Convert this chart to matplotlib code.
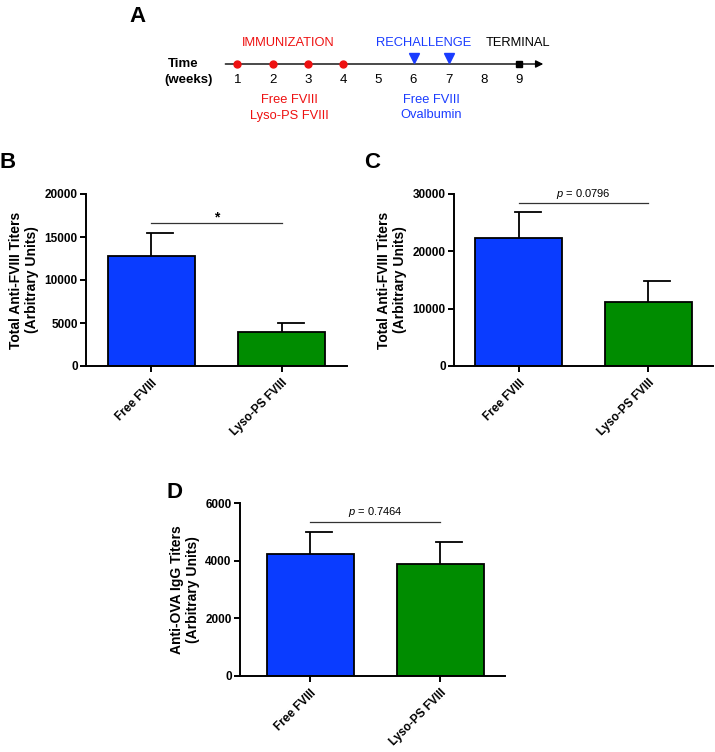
import matplotlib
matplotlib.use("Agg")
import matplotlib.pyplot as plt

plt.rcParams['font.family'] = ['Liberation Sans', 'DejaVu Sans']
plt.rcParams['mathtext.fontset'] = 'custom'
plt.rcParams['mathtext.it'] = 'Liberation Sans:italic'
plt.rcParams['mathtext.rm'] = 'Liberation Sans'

# --- data ---
groups = ["Free FVIII", "Lyso-PS FVIII"]
bar_colors = ["#0a3cff", "#008c00"]

b_mean = [12800, 3900]
b_err = [2650, 1100]
b_sig_y = 16600
b_sig_text = "*"

c_mean = [22400, 11150]
c_err = [4450, 3650]
c_sig_y = 28400
c_sig_text = r"$\it{p}$ = 0.0796"

d_mean = [4230, 3880]
d_err = [760, 760]
d_sig_y = 5340
d_sig_text = r"$\it{p}$ = 0.7464"

weeks = [1, 2, 3, 4, 5, 6, 7, 8, 9]
immunization_weeks = [1, 2, 3, 4]
rechallenge_weeks = [6, 7]
terminal_week = 9

RED = "#ee1111"
BLUE = "#1a3cff"

W, H = 715, 752
fig = plt.figure(figsize=(W / 100, H / 100), dpi=100)


def px_axes(x0, y0, x1, y1):
    # axes placed by pixel box (top-left origin)
    return fig.add_axes([x0 / W, 1 - y1 / H, (x1 - x0) / W, (y1 - y0) / H])


# --- panel A: timeline ---
axA = px_axes(150, 0, 600, 130)
axA.set_xlim(1 + (150 - 237.3) / 35.25, 1 + (600 - 237.3) / 35.25)
axA.set_ylim(130, 0)
axA.axis("off")

axA.annotate("", xy=(9.68, 64), xytext=(0.66, 64),
             arrowprops=dict(arrowstyle="-|>", color="black", lw=1.0,
                             mutation_scale=11, shrinkA=0, shrinkB=0))
axA.plot(immunization_weeks, [64] * len(immunization_weeks), "o",
         color=RED, ms=5, zorder=3)
axA.plot(rechallenge_weeks, [57.5] * len(rechallenge_weeks), "v",
         color=BLUE, ms=6.5, zorder=3)
axA.plot([terminal_week], [64], "s", color="black", ms=4.5, zorder=3)
for w in weeks:
    axA.text(w, 80, str(w), ha="center", va="center", fontsize=9.5)
axA.text(-0.54, 64, "Time", ha="center", va="center", fontsize=9.5, fontweight="bold")
axA.text(-0.39, 80, "(weeks)", ha="center", va="center", fontsize=9.5, fontweight="bold")
axA.text(2.45, 42.5, "IMMUNIZATION", ha="center", va="center", fontsize=9.3, color=RED)
axA.text(6.28, 42.5, "RECHALLENGE", ha="center", va="center", fontsize=9.3, color=BLUE)
axA.text(8.97, 42.5, "TERMINAL", ha="center", va="center", fontsize=9.3, color="black")
axA.text(2.48, 100, "Free FVIII", ha="center", va="center", fontsize=9.3, color=RED)
axA.text(2.48, 115.5, "Lyso-PS FVIII", ha="center", va="center", fontsize=9.3, color=RED)
axA.text(6.5, 100, "Free FVIII", ha="center", va="center", fontsize=9.3, color=BLUE)
axA.text(6.5, 115.5, "Ovalbumin", ha="center", va="center", fontsize=9.3, color=BLUE)
fig.text(137 / W, 1 - 17 / H, "A", ha="center", va="center", fontsize=16, fontweight="bold")


def bar_panel(ax, means, errs, ymax, yticks, ylabel, sig_y, sig_text, sig_italic, xleft=-0.5):
    x = [0, 1]
    ax.bar(x, means, width=0.67, color=bar_colors, edgecolor="black", linewidth=1.3, zorder=2)
    for xi, m, e in zip(x, means, errs):
        ax.plot([xi, xi], [m, m + e], color="black", lw=1.3, zorder=1, solid_capstyle="butt")
        ax.plot([xi - 0.03, xi + 0.17], [m + e, m + e], color="black", lw=1.3, zorder=1)
    ax.plot([0, 1], [sig_y, sig_y], color="#333333", lw=0.9)
    if sig_italic:
        ax.text(0.5, sig_y + ymax * 0.015, sig_text, ha="center", va="bottom", fontsize=8)
    else:
        ax.text(0.5, sig_y - ymax * 0.01, sig_text, ha="center", va="bottom", fontsize=10,
                fontweight="bold")
    ax.set_xlim(xleft, 1.5)
    ax.set_ylim(0, ymax)
    ax.set_yticks(yticks)
    ax.set_yticklabels([str(t) for t in yticks], fontsize=8.5, fontweight="bold")
    ax.set_xticks(x)
    ax.set_xticklabels(groups, rotation=45, ha="right", rotation_mode="anchor",
                       fontsize=8.5, fontweight="bold")
    ax.set_ylabel(ylabel, fontsize=10, fontweight="bold", labelpad=4)
    for s in ["top", "right"]:
        ax.spines[s].set_visible(False)
    for s in ["left", "bottom"]:
        ax.spines[s].set_linewidth(1.4)
    ax.tick_params(direction="out", length=4, width=1.4, pad=2)
    ax.tick_params(axis="x", pad=4)


axB = px_axes(86, 194, 347, 366)
bar_panel(axB, b_mean, b_err, 20000, [0, 5000, 10000, 15000, 20000],
          "Total Anti-FVIII Titers\n(Arbitrary Units)", b_sig_y, b_sig_text, False)
fig.text(8 / W, 1 - 163 / H, "B", ha="center", va="center", fontsize=16, fontweight="bold")

axC = px_axes(454, 194, 713, 366)
bar_panel(axC, c_mean, c_err, 30000, [0, 10000, 20000, 30000],
          "Total Anti-FVIII Titers\n(Arbitrary Units)", c_sig_y, c_sig_text, True)
fig.text(372 / W, 1 - 162 / H, "C", ha="center", va="center", fontsize=16, fontweight="bold")

axD = px_axes(240, 503, 505, 676)
bar_panel(axD, d_mean, d_err, 6000, [0, 2000, 4000, 6000],
          "Anti-OVA IgG Titers\n(Arbitrary Units)", d_sig_y, d_sig_text, True, xleft=-0.54)
fig.text(175 / W, 1 - 492 / H, "D", ha="center", va="center", fontsize=16, fontweight="bold")

fig.savefig("out.png", dpi=100)
